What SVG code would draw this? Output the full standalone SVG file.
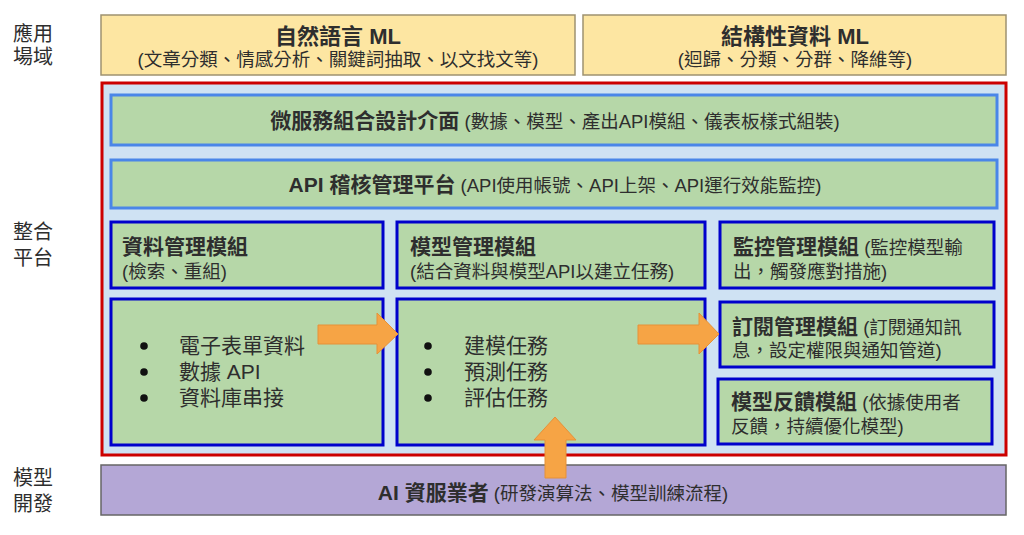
<svg xmlns="http://www.w3.org/2000/svg" width="1024" height="535" viewBox="0 0 1024 535">
<style>
text{font-family:"Liberation Sans","Noto Sans CJK TC",sans-serif;fill:#2e2e2e}
.side{font-size:20px}
.yel{fill:#fde6a2;stroke:#9e9270;stroke-width:1.5}
.outer{fill:#cfe2f3;stroke:#cc0000;stroke-width:3}
.lb{fill:#b6d7a8;stroke:#4a86e8;stroke-width:3}
.db{fill:#b6d7a8;stroke:#0000cc;stroke-width:3}
.pur{fill:#b4a7d6;stroke:#666;stroke-width:1.5}
.t1{font-size:22px;font-weight:bold}
.t2{font-size:18.5px}
.b{font-size:21px;font-weight:bold}
.s{font-size:18.5px;font-weight:normal}
.li{font-size:21px}
.arr{fill:#f6a445;stroke:#e69138;stroke-width:1}
</style>
<g id="labels">
<text class="side" x="13" y="41">應用</text>
<text class="side" x="13" y="64">場域</text>
<text class="side" x="13" y="239">整合</text>
<text class="side" x="13" y="265">平台</text>
<text class="side" x="13" y="485">模型</text>
<text class="side" x="13" y="511">開發</text>
</g>
<g id="nlp">
<rect class="yel" x="101" y="15" width="474" height="60"/>
<text class="t1" x="338" y="44" text-anchor="middle">自然語言 ML</text>
<text class="t2" x="338" y="66" text-anchor="middle">(文章分類、情感分析、關鍵詞抽取、以文找文等)</text>
</g>
<g id="struct">
<rect class="yel" x="583" y="15" width="423" height="60"/>
<text class="t1" x="795" y="44" text-anchor="middle">結構性資料 ML</text>
<text class="t2" x="795" y="66" text-anchor="middle">(迴歸、分類、分群、降維等)</text>
</g>
<g id="platform">
<rect class="outer" x="102" y="83" width="904" height="372"/>
</g>
<g id="micro">
<rect class="lb" x="111" y="95" width="886" height="50"/>
<text class="b" x="555" y="128" text-anchor="middle">微服務組合設計介面<tspan class="s"> (數據、模型、產出API模組、儀表板樣式組裝)</tspan></text>
</g>
<g id="api">
<rect class="lb" x="111" y="160" width="886" height="48"/>
<text class="b" x="555" y="192" text-anchor="middle">API 稽核管理平台<tspan class="s"> (API使用帳號、API上架、API運行效能監控)</tspan></text>
</g>
<g id="datamgmt">
<rect class="db" x="111" y="222" width="272" height="66"/>
<text class="b" x="122" y="254">資料管理模組</text>
<text class="s" x="122" y="278">(檢索、重組)</text>
</g>
<g id="modelmgmt">
<rect class="db" x="397" y="222" width="308" height="66"/>
<text class="b" x="410" y="254">模型管理模組</text>
<text class="s" x="410" y="278">(結合資料與模型API以建立任務)</text>
</g>
<g id="monitor">
<rect class="db" x="720" y="222" width="274" height="66"/>
<text class="b" x="733" y="254">監控管理模組<tspan class="s"> (監控模型輸</tspan></text>
<text class="s" x="733" y="278">出，觸發應對措施)</text>
</g>
<g id="datalist">
<rect class="db" x="111" y="299" width="272" height="146"/>
<circle cx="144" cy="346" r="3.8" fill="#111"/>
<circle cx="144" cy="372" r="3.8" fill="#111"/>
<circle cx="144" cy="398" r="3.8" fill="#111"/>
<text class="li" x="179" y="353">電子表單資料</text>
<text class="li" x="179" y="379">數據 API</text>
<text class="li" x="179" y="405">資料庫串接</text>
</g>
<g id="tasklist">
<rect class="db" x="397" y="299" width="308" height="146"/>
<circle cx="428" cy="346" r="3.8" fill="#111"/>
<circle cx="428" cy="372" r="3.8" fill="#111"/>
<circle cx="428" cy="398" r="3.8" fill="#111"/>
<text class="li" x="464" y="353">建模任務</text>
<text class="li" x="464" y="379">預測任務</text>
<text class="li" x="464" y="405">評估任務</text>
</g>
<g id="subscribe">
<rect class="db" x="720" y="302" width="274" height="65"/>
<text class="b" x="732" y="334">訂閱管理模組<tspan class="s"> (訂閱通知訊</tspan></text>
<text class="s" x="732" y="357">息，設定權限與通知管道)</text>
</g>
<g id="feedback">
<rect class="db" x="718" y="379" width="274" height="65"/>
<text class="b" x="731" y="409">模型反饋模組<tspan class="s"> (依據使用者</tspan></text>
<text class="s" x="731" y="433">反饋，持續優化模型)</text>
</g>
<g id="vendor">
<rect class="pur" x="101" y="465" width="905" height="50"/>
<text class="b" x="553" y="500" text-anchor="middle">AI 資服業者<tspan class="s"> (研發演算法、模型訓練流程)</tspan></text>
</g>
<g id="connectors">
<polygon class="arr" points="318,325 377,325 377,313 398,334 377,354 377,344 318,344"/>
<polygon class="arr" points="638,325 699,325 699,313 719,334 699,354 699,344 638,344"/>
<polygon class="arr" points="545,478 545,440 534,440 555,417 576,440 566,440 566,478"/>
</g>
</svg>
